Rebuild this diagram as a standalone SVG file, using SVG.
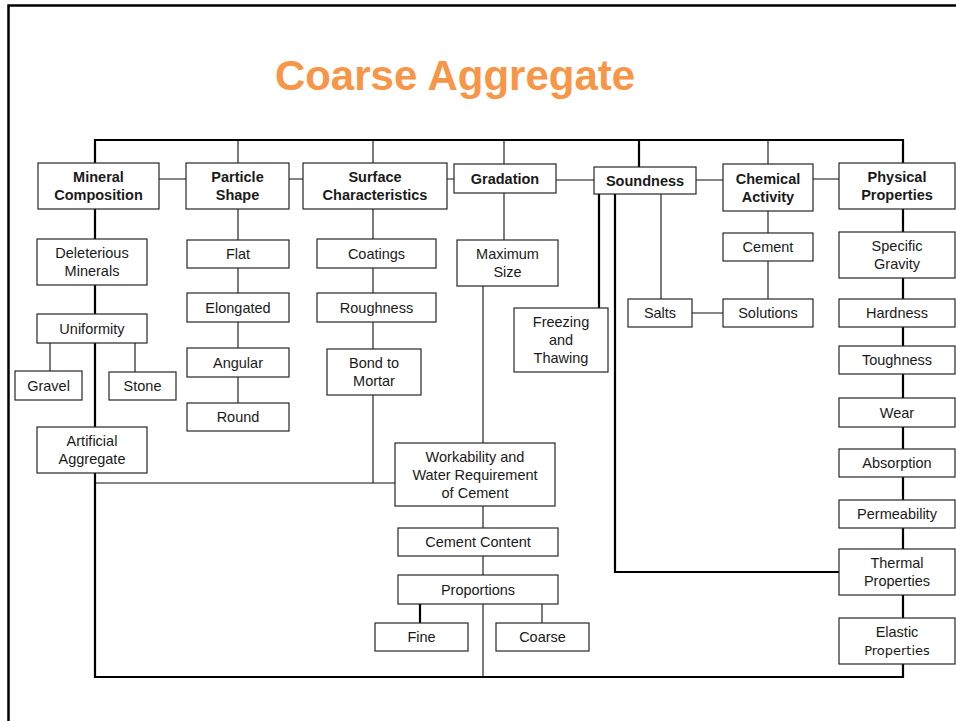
<svg xmlns="http://www.w3.org/2000/svg" width="956" height="721" viewBox="0 0 956 721">
<style>
.b{fill:#fff;stroke:#262626;stroke-width:1.2}
.t{font-family:"Liberation Sans",Arial,sans-serif;font-size:14.5px;fill:#1a1a1a;text-anchor:middle}
.h{font-weight:bold}
.c{font-family:"DejaVu Sans",sans-serif;font-size:13px}
.k{stroke:#000;stroke-width:2.2;fill:none}
.n{stroke:#111;stroke-width:1.1;fill:none}
</style>
<rect x="0" y="0" width="956" height="721" fill="#fff"/>
<path d="M8.5 721 V5.5 H956" fill="none" stroke="#000" stroke-width="2.5"/>
<text x="455" y="90" font-family="Liberation Sans,Arial,sans-serif" font-size="42" font-weight="bold" fill="#F79646" text-anchor="middle">Coarse Aggregate</text>
<g id="connectors">
<path class="k" d="M95 163 V140 H903 V163"/>
<path class="k" d="M639 140 V167"/>
<path class="n" d="M238 140 V163 M373 140 V163 M504 140 V164 M768 140 V164"/>
<path class="n" d="M159 179 H186 M289 179 H303 M447 179 H454 M556 180 H594 M696 180 H723 M813 179 H839"/>
<path class="k" d="M95 209 V239 M95 285 V314 M95 343 V427 M95 473 V677 H903 V664"/>
<path class="n" d="M50 343 V371 M135 343 V372"/>
<path class="n" d="M238 209 V240 M238 268 V293 M238 322 V348 M238 377 V403"/>
<path class="n" d="M373 209 V239 M373 268 V293 M373 322 V349 M373 395 V483 M95 483 H395"/>
<path class="n" d="M504 193 V240 M483 286 V443 M483 506 V528 M483 556 V575 M483 604 V677 M542 604 V623"/>
<path class="k" d="M420 604 V623"/>
<path class="k" d="M599 194 V308 M615 194 V572 H839"/>
<path class="n" d="M661 194 V299 M692 313 H723 M768 211 V233 M768 261 V299"/>
<path class="k" d="M903 209 V232 M903 278 V299 M903 327 V346 M903 374 V398 M903 427 V449 M903 477 V500 M903 528 V549 M903 595 V618"/>
</g>
<g id="mineral-composition"><rect class="b" x="38" y="163" width="121" height="46"/><text class="t h" x="98.5" y="182">Mineral</text><text class="t h" x="98.5" y="200">Composition</text></g>
<g id="particle-shape"><rect class="b" x="186" y="163" width="103" height="46"/><text class="t h" x="237.5" y="182">Particle</text><text class="t h" x="237.5" y="200">Shape</text></g>
<g id="surface-characteristics"><rect class="b" x="303" y="163" width="144" height="46"/><text class="t h" x="375" y="182">Surface</text><text class="t h" x="375" y="200">Characteristics</text></g>
<g id="gradation"><rect class="b" x="454" y="164" width="102" height="29"/><text class="t h" x="505" y="183.5">Gradation</text></g>
<g id="soundness"><rect class="b" x="594" y="167" width="102" height="27"/><text class="t h" x="645" y="185.5">Soundness</text></g>
<g id="chemical-activity"><rect class="b" x="723" y="164" width="90" height="47"/><text class="t h" x="768" y="183.5">Chemical</text><text class="t h" x="768" y="201.5">Activity</text></g>
<g id="physical-properties"><rect class="b" x="839" y="163" width="116" height="46"/><text class="t h" x="897" y="182">Physical</text><text class="t h" x="897" y="200">Properties</text></g>
<g id="deleterious-minerals"><rect class="b" x="37" y="239" width="110" height="46"/><text class="t" x="92" y="258">Deleterious</text><text class="t" x="92" y="276">Minerals</text></g>
<g id="uniformity"><rect class="b" x="37" y="314" width="110" height="29"/><text class="t" x="92" y="333.5">Uniformity</text></g>
<g id="gravel"><rect class="b" x="15" y="371" width="67" height="29"/><text class="t" x="48.5" y="390.5">Gravel</text></g>
<g id="stone"><rect class="b" x="109" y="372" width="67" height="28"/><text class="t" x="142.5" y="391">Stone</text></g>
<g id="artificial-aggregate"><rect class="b" x="37" y="427" width="110" height="46"/><text class="t" x="92" y="446">Artificial</text><text class="t" x="92" y="464">Aggregate</text></g>
<g id="flat"><rect class="b" x="187" y="240" width="102" height="28"/><text class="t" x="238" y="259">Flat</text></g>
<g id="elongated"><rect class="b" x="187" y="293" width="102" height="29"/><text class="t" x="238" y="312.5">Elongated</text></g>
<g id="angular"><rect class="b" x="187" y="348" width="102" height="29"/><text class="t" x="238" y="367.5">Angular</text></g>
<g id="round"><rect class="b" x="187" y="403" width="102" height="28"/><text class="t" x="238" y="422">Round</text></g>
<g id="coatings"><rect class="b" x="317" y="239" width="119" height="29"/><text class="t" x="376.5" y="258.5">Coatings</text></g>
<g id="roughness"><rect class="b" x="317" y="293" width="119" height="29"/><text class="t" x="376.5" y="312.5">Roughness</text></g>
<g id="bond-to-mortar"><rect class="b" x="327" y="349" width="94" height="46"/><text class="t" x="374" y="368">Bond to</text><text class="t" x="374" y="386">Mortar</text></g>
<g id="maximum-size"><rect class="b" x="457" y="240" width="101" height="46"/><text class="t" x="507.5" y="259">Maximum</text><text class="t" x="507.5" y="277">Size</text></g>
<g id="freezing-and-thawing"><rect class="b" x="514" y="308" width="94" height="64"/><text class="t" x="561" y="327">Freezing</text><text class="t" x="561" y="345">and</text><text class="t" x="561" y="363">Thawing</text></g>
<g id="salts"><rect class="b" x="628" y="299" width="64" height="28"/><text class="t" x="660" y="318">Salts</text></g>
<g id="cement"><rect class="b" x="723" y="233" width="90" height="28"/><text class="t" x="768" y="252">Cement</text></g>
<g id="solutions"><rect class="b" x="723" y="299" width="90" height="28"/><text class="t" x="768" y="318">Solutions</text></g>
<g id="specific-gravity"><rect class="b" x="839" y="232" width="116" height="46"/><text class="t" x="897" y="251">Specific</text><text class="t" x="897" y="269">Gravity</text></g>
<g id="hardness"><rect class="b" x="839" y="299" width="116" height="28"/><text class="t" x="897" y="318">Hardness</text></g>
<g id="toughness"><rect class="b" x="839" y="346" width="116" height="28"/><text class="t" x="897" y="365">Toughness</text></g>
<g id="wear"><rect class="b" x="839" y="398" width="116" height="29"/><text class="t" x="897" y="417.5">Wear</text></g>
<g id="absorption"><rect class="b" x="839" y="449" width="116" height="28"/><text class="t" x="897" y="468">Absorption</text></g>
<g id="permeability"><rect class="b" x="839" y="500" width="116" height="28"/><text class="t" x="897" y="519">Permeability</text></g>
<g id="thermal-properties"><rect class="b" x="839" y="549" width="116" height="46"/><text class="t" x="897" y="568">Thermal</text><text class="t" x="897" y="586">Properties</text></g>
<g id="elastic-properties"><rect class="b" x="839" y="618" width="116" height="46"/><text class="t" x="897" y="637">Elastic</text><text class="t c" x="897" y="655">Properties</text></g>
<g id="workability"><rect class="b" x="395" y="443" width="160" height="63"/><text class="t" x="475" y="461.5">Workability and</text><text class="t" x="475" y="479.5">Water Requirement</text><text class="t" x="475" y="497.5">of Cement</text></g>
<g id="cement-content"><rect class="b" x="398" y="528" width="160" height="28"/><text class="t" x="478" y="547">Cement Content</text></g>
<g id="proportions"><rect class="b" x="398" y="575" width="160" height="29"/><text class="t" x="478" y="594.5">Proportions</text></g>
<g id="fine"><rect class="b" x="375" y="623" width="93" height="28"/><text class="t" x="421.5" y="642">Fine</text></g>
<g id="coarse"><rect class="b" x="496" y="623" width="93" height="28"/><text class="t" x="542.5" y="642">Coarse</text></g>
</svg>
